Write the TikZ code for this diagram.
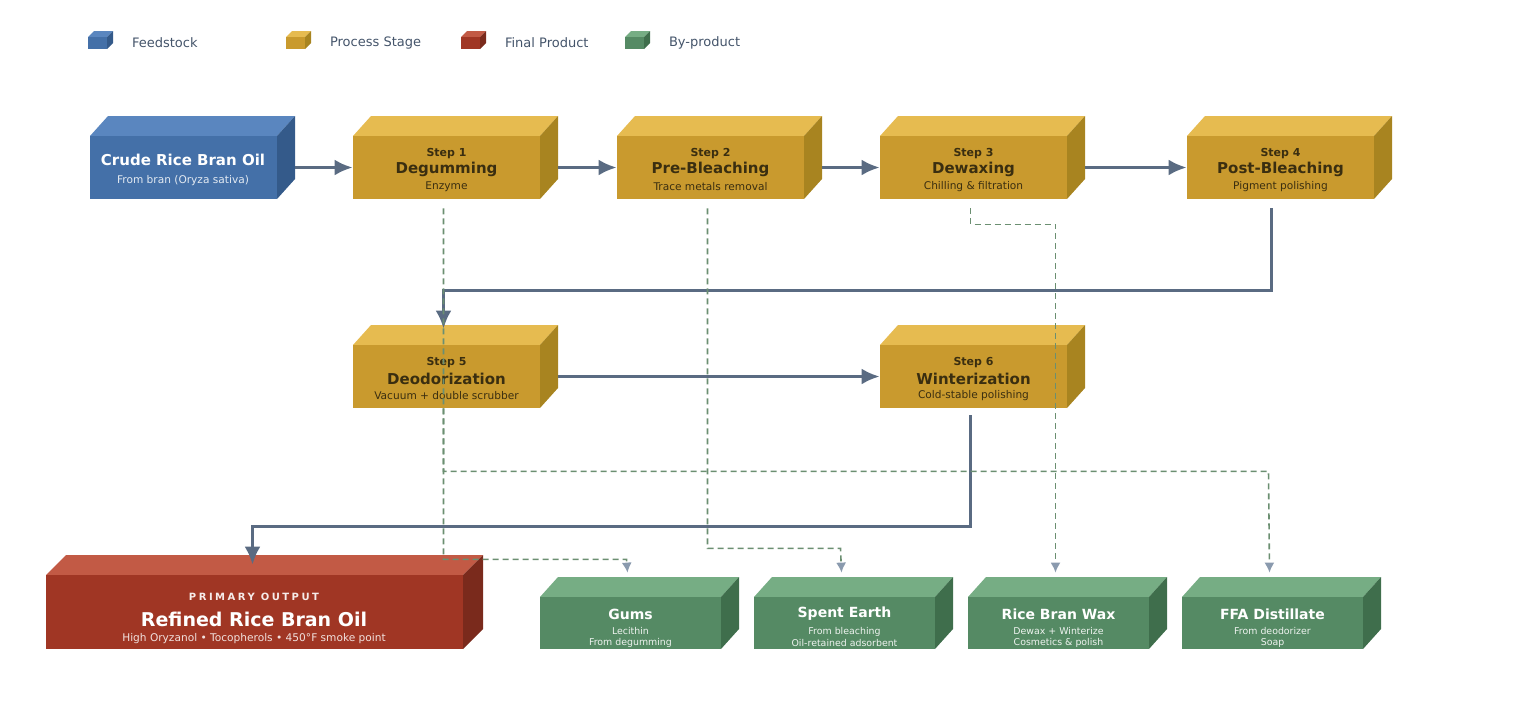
\documentclass[tikz,border=0pt]{standalone}
\usepackage{fontspec}
\setmainfont{DejaVu Sans}
\usetikzlibrary{calc,arrows.meta}

\definecolor{feedF}{HTML}{4470A8}\definecolor{feedT}{HTML}{5A86BF}\definecolor{feedS}{HTML}{345A8A}
\definecolor{procF}{HTML}{C99A2E}\definecolor{procT}{HTML}{E6BB50}\definecolor{procS}{HTML}{A88420}
\definecolor{prodF}{HTML}{A03624}\definecolor{prodT}{HTML}{C25A45}\definecolor{prodS}{HTML}{7A2A1C}
\definecolor{byF}{HTML}{558A64}\definecolor{byT}{HTML}{76AD84}\definecolor{byS}{HTML}{3F6E4C}
\definecolor{flow}{HTML}{5A6B82}\definecolor{recov}{HTML}{6B8F71}\definecolor{tipc}{HTML}{8A9AAE}
\definecolor{proctext}{HTML}{3A2E10}\definecolor{legtext}{HTML}{44546A}

% slab: name, x1, y1, x2, y2, depth, colour prefix
\newcommand\slab[7]{%
  \fill[#7T] (#2,#3) -- (#2+#6,#3-20) -- (#4+#6,#3-20) -- (#4,#3) -- cycle;
  \fill[#7S] (#4,#3) -- (#4+#6,#3-20) -- (#4+#6,#5-20) -- (#4,#5) -- cycle;
  \fill[#7F] (#2,#3) rectangle (#4,#5);
  \node[inner sep=0, minimum width={(#4-#2)*0.5pt}, minimum height={(#5-#3)*0.5pt}] (#1) at ({(#2+#4)/2},{(#3+#5)/2}) {};}

\begin{document}
\begin{tikzpicture}[x=0.5pt,y=-0.5pt,
  flowline/.style={draw=flow,line width=1.5pt,-{Latex[length=9pt,width=8pt]}},
  recovline/.style={draw=recov,line width=0.8pt,dash pattern=on 3pt off 2pt,-{Latex[length=5pt,width=5pt,fill=tipc,color=tipc]}},
  steplbl/.style={font=\bfseries\fontsize{5.5}{6}\selectfont,text=proctext},
  stepname/.style={font=\bfseries\fontsize{7.5}{9}\selectfont,text=proctext},
  stepsub/.style={font=\fontsize{5.3}{6}\selectfont,text=proctext},
  byname/.style={font=\bfseries\fontsize{7}{8}\selectfont,text=white},
  bysub/.style={font=\fontsize{4.7}{5.6}\selectfont,text=white!90!byF,align=center},
  legend/.style={font=\fontsize{6.5}{8}\selectfont,text=legtext,anchor=west}]
\useasboundingbox (0,0) rectangle (1536,712);

% legend
\foreach \x/\c/\t in {88/feed/Feedstock / Input,286/proc/Process Stage,461/prod/Final Product,625/by/By-product / Recovery} {
  \fill[\c T] (\x,37) -- (\x+6,31) -- (\x+25,31) -- (\x+19,37) -- cycle;
  \fill[\c S] (\x+19,37) -- (\x+25,31) -- (\x+25,43) -- (\x+19,49) -- cycle;
  \fill[\c F] (\x,37) rectangle (\x+19,49);
  \node[legend] at (\x+37,43) {\t};}

% stages
\slab{crude}{90}{136}{277}{199}{18}{feed}
\slab{s1}{353}{136}{540}{199}{18}{proc}
\slab{s2}{617}{136}{804}{199}{18}{proc}
\slab{s3}{880}{136}{1067}{199}{18}{proc}
\slab{s4}{1187}{136}{1374}{199}{18}{proc}
\slab{s5}{353}{345}{540}{408}{18}{proc}
\slab{s6}{880}{345}{1067}{408}{18}{proc}
\slab{oil}{46}{575}{463}{649}{20}{prod}
\slab{gums}{540}{597}{721}{649}{18}{by}
\slab{earth}{754}{597}{935}{649}{18}{by}
\slab{wax}{968}{597}{1149}{649}{18}{by}
\slab{ffa}{1182}{597}{1363}{649}{18}{by}

\node[font=\bfseries\fontsize{7.5}{9}\selectfont,text=white] at (183,160) {Crude Rice Bran Oil};
\node[font=\fontsize{5.3}{6}\selectfont,text=white!85!feedF] at (183,181) {From bran (Oryza sativa)};

\foreach \n/\k/\t/\s in {s1/1/Degumming/Enzyme/acid • centrifuge,s2/2/Pre-Bleaching/Trace metals removal,s3/3/Dewaxing/Chilling \& filtration,s4/4/Post-Bleaching/Pigment polishing,s5/5/Deodorization/Vacuum + double scrubber,s6/6/Winterization/Cold-stable polishing} {
  \node[steplbl] at ($(\n.center)+(0,-14)$) {Step \k};
  \node[stepname] at ($(\n.center)+(0,2)$) {\t};
  \node[stepsub] at ($(\n.center)+(0,19)$) {\s};}

\node[font=\bfseries\fontsize{5}{6}\selectfont,text=white!90!prodF] at (254,597) {\addfontfeature{LetterSpace=25}PRIMARY OUTPUT};
\node[font=\bfseries\fontsize{9.5}{11}\selectfont,text=white] at (254,619) {Refined Rice Bran Oil};
\node[font=\fontsize{5.3}{6}\selectfont,text=white!85!prodF] at (254,639) {High Oryzanol • Tocopherols • 450°F smoke point};

\foreach \n/\t/\a/\b in {gums/Gums / Lecithin/From degumming/Lecithin recovery,earth/Spent Earth/From bleaching/Oil-retained adsorbent,wax/Rice Bran Wax/Dewax + Winterize/Cosmetics \& polish,ffa/FFA Distillate/From deodorizer/Soap / biodiesel feed} {
  \node[byname] at ($(\n.center)+(0,-9)$) {\t};
  \node[bysub] at ($(\n.center)+(0,14)$) {\a\\\b};}

% main flow
\draw[flowline] ($(crude.east)+(18,0)$) -- (s1.west);
\draw[flowline] ($(s1.east)+(18,0)$) -- (s2.west);
\draw[flowline] ($(s2.east)+(18,0)$) -- (s3.west);
\draw[flowline] ($(s3.east)+(18,0)$) -- (s4.west);
\draw[flowline] ($(s4.south)+(-9,9)$) -- ++(0,82) -| ($(s5.north)+(-3,-16)$);
\draw[flowline] ($(s5.east)+(18,0)$) -- (s6.west);
\draw[flowline] ($(s6.south)+(-3,7)$) -- ++(0,111) -| ($(oil.north)+(-2,-10)$);

% recovery
\draw[recovline] ($(s1.south)+(-3,9)$) |- ++(183,351) -- ($(gums.north)+(-3,-24)$);
\draw[recovline] ($(s2.south)+(-3,9)$) |- ++(133,340) -- ($(earth.north)+(-3,-24)$);
\draw[recovline] ($(s3.south)+(-3,9)$) |- ++(85,16) -- ($(wax.north)+(-3,-24)$);
\draw[recovline] ($(s5.south)+(-3,0)$) |- ++(825,63) -- ($(ffa.north)+(-3,-24)$);
\end{tikzpicture}
\end{document}
